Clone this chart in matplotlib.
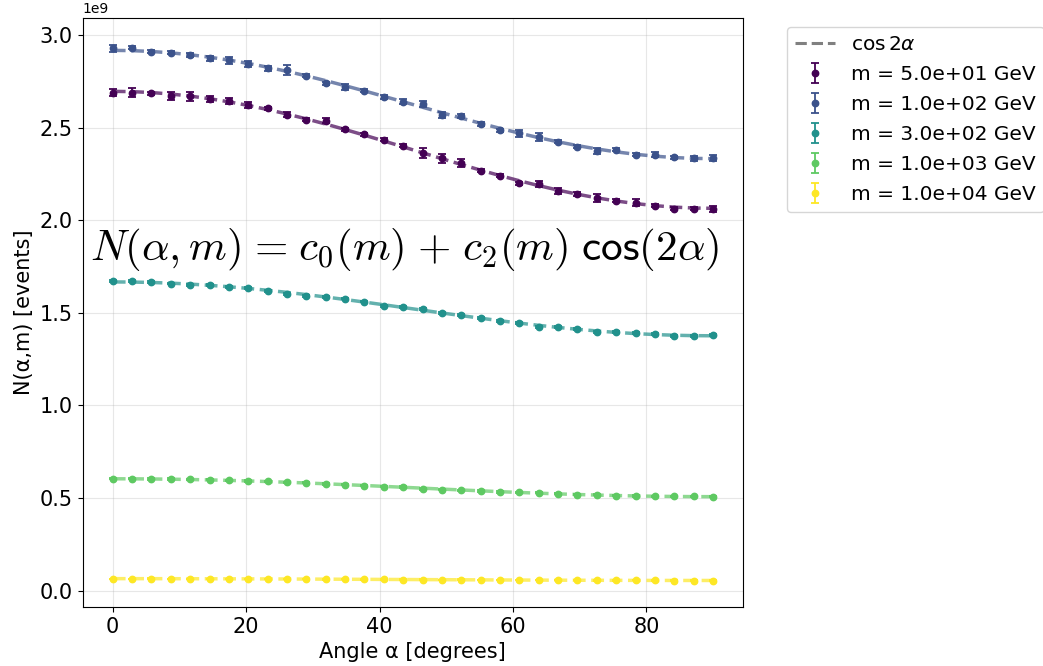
import numpy as np
import matplotlib
matplotlib.use("Agg")
import matplotlib.pyplot as plt

# ---- data (values in units of 1e9 events) ----
angles = np.linspace(0, 90, 32)
masses = [5.0e1, 1.0e2, 3.0e2, 1.0e3, 1.0e4]
colors = ["#440154", "#3b528b", "#21918c", "#5ec962", "#fde725"]

n_m50 = [2.689, 2.689, 2.686, 2.671, 2.668, 2.653, 2.643, 2.621, 2.603, 2.570,
         2.542, 2.538, 2.491, 2.464, 2.434, 2.401, 2.362, 2.333, 2.308, 2.268,
         2.241, 2.200, 2.194, 2.158, 2.142, 2.122, 2.104, 2.095, 2.077, 2.063,
         2.063, 2.059]
e_m50 = [0.018, 0.022, 0.008, 0.022, 0.022, 0.015, 0.018, 0.018, 0.008, 0.015,
         0.008, 0.012, 0.008, 0.008, 0.008, 0.008, 0.026, 0.026, 0.022, 0.008,
         0.008, 0.008, 0.015, 0.015, 0.012, 0.022, 0.008, 0.018, 0.008, 0.008,
         0.008, 0.015]

n_m100 = [2.927, 2.932, 2.910, 2.903, 2.891, 2.873, 2.862, 2.844, 2.819, 2.810,
          2.779, 2.740, 2.718, 2.700, 2.666, 2.640, 2.626, 2.567, 2.561, 2.518,
          2.486, 2.468, 2.451, 2.424, 2.396, 2.373, 2.380, 2.354, 2.354, 2.340,
          2.333, 2.336]
e_m100 = [0.018, 0.008, 0.008, 0.008, 0.012, 0.012, 0.018, 0.015, 0.012, 0.026,
          0.008, 0.008, 0.015, 0.008, 0.012, 0.015, 0.015, 0.018, 0.012, 0.012,
          0.008, 0.018, 0.022, 0.008, 0.008, 0.015, 0.008, 0.008, 0.015, 0.008,
          0.015, 0.015]

n_m300 = [1.671, 1.672, 1.667, 1.658, 1.652, 1.649, 1.638, 1.633, 1.620, 1.602,
          1.593, 1.586, 1.577, 1.561, 1.537, 1.530, 1.521, 1.498, 1.487, 1.471,
          1.456, 1.445, 1.422, 1.424, 1.411, 1.397, 1.397, 1.393, 1.384, 1.373,
          1.377, 1.382]
e_m300 = [0.005] * 32

n_m1000 = [0.605, 0.605, 0.603, 0.603, 0.601, 0.598, 0.596, 0.592, 0.591, 0.585,
           0.582, 0.576, 0.571, 0.567, 0.562, 0.560, 0.549, 0.546, 0.542, 0.538,
           0.533, 0.531, 0.528, 0.524, 0.519, 0.517, 0.513, 0.511, 0.510, 0.510,
           0.510, 0.508]
e_m1000 = [0.003] * 32

n_m10000 = [0.0648, 0.0648, 0.0650, 0.0646, 0.0648, 0.0644, 0.0646, 0.0632, 0.0634,
            0.0630, 0.0632, 0.0614, 0.0616, 0.0612, 0.0614, 0.0598, 0.0596, 0.0594,
            0.0596, 0.0592, 0.0578, 0.0580, 0.0576, 0.0578, 0.0562, 0.0560, 0.0558,
            0.0562, 0.0556, 0.0544, 0.0542, 0.0544]
e_m10000 = [0.001] * 32

series = [n_m50, n_m100, n_m300, n_m1000, n_m10000]
errors = [e_m50, e_m100, e_m300, e_m1000, e_m10000]

# ---- figure ----
fig = plt.figure(figsize=(10.43, 6.66), dpi=100)
ax = fig.add_axes([0.0793, 0.0886, 0.6331, 0.8851])

rad = np.deg2rad(angles)
design = np.column_stack([np.ones_like(rad), np.cos(2 * rad)])

handles = []
fit_proxy, = ax.plot([], [], color="gray", ls="--", lw=2.2, label=r"$\cos 2\alpha$")
handles.append(fit_proxy)

for m, y, e, c in zip(masses, series, errors, colors):
    y = np.asarray(y) * 1e9
    e = np.asarray(e) * 1e9
    h = ax.errorbar(angles, y, yerr=e, fmt="o", color=c, ms=4.6, capsize=3,
                    elinewidth=1.3, capthick=1.3, label=f"m = {m:.1e} GeV", zorder=3)
    handles.append(h)
    coef, *_ = np.linalg.lstsq(design, y, rcond=None)
    ax.plot(angles, design @ coef, ls="--", color=c, lw=2.5, alpha=0.7, zorder=2)

ax.set_xlim(-4.5, 94.5)
ax.set_ylim(-0.088e9, 3.094e9)
ax.grid(True, alpha=0.3)
ax.tick_params(labelsize=15)
ax.yaxis.get_offset_text().set_fontsize(10)
ax.set_xlabel("Angle α [degrees]", fontsize=15)
ax.set_ylabel("N(α,m) [events]", fontsize=15)

ax.text(0.011, 0.606,
        r"$N(\alpha,m)\hspace{0.1}=\hspace{0.1}c_0(m)\hspace{0.1}+\hspace{0.1}c_2(m)"
        r"\hspace{0.3}\mathsf{cos}(2\alpha)$",
        transform=ax.transAxes, fontsize=31, va="center", ha="left",
        math_fontfamily="cm")

fig.legend(handles=handles, loc="upper left",
           bbox_to_anchor=(787 / 1043, 1 - 27 / 666), fontsize=14.5,
           labelspacing=0.55, borderaxespad=0)

fig.savefig("out.png", dpi=100)
